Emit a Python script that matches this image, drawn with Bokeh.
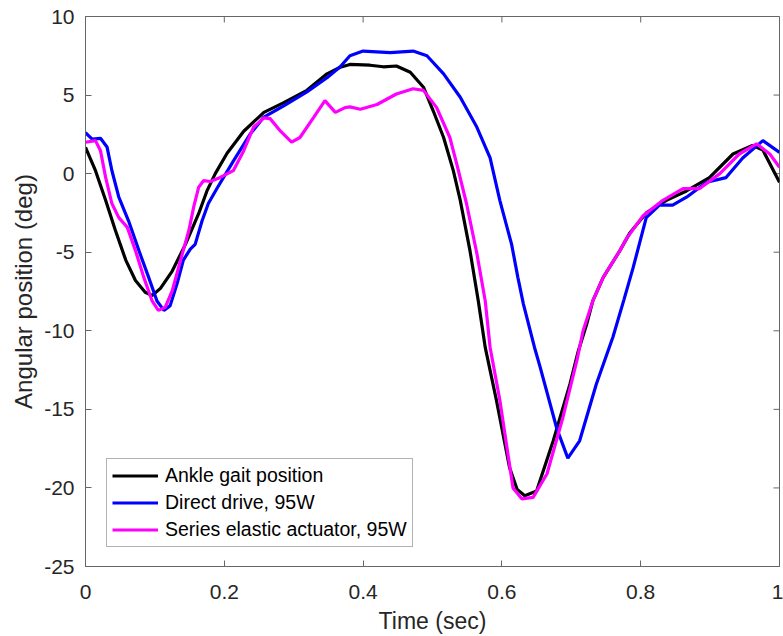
import math
from bokeh.plotting import figure
from bokeh.models import FixedTicker, Legend, LegendItem, Range1d
from bokeh.embed import file_html
from bokeh.resources import INLINE

# Ankle gait position (black)
ankle_t = [0.0, 0.0144, 0.029, 0.043, 0.058, 0.072, 0.086, 0.096, 0.108, 0.125, 0.144,
           0.163, 0.175, 0.187, 0.204, 0.228, 0.257, 0.285, 0.319, 0.348, 0.367, 0.381,
           0.41, 0.429, 0.448, 0.468, 0.487, 0.501, 0.516, 0.53, 0.54, 0.554, 0.566,
           0.576, 0.592, 0.611, 0.622, 0.633, 0.65, 0.674, 0.698, 0.71, 0.722, 0.731,
           0.746, 0.77, 0.784, 0.808, 0.837, 0.866, 0.899, 0.933, 0.961, 0.976, 1.0]
ankle_y = [1.67, 0.19, -1.7, -3.6, -5.5, -6.8, -7.55, -7.75, -7.3, -6.2, -4.5,
           -2.55, -1.1, 0.0, 1.3, 2.7, 3.9, 4.5, 5.3, 6.35, 6.77, 6.95,
           6.9, 6.8, 6.85, 6.45, 5.5, 4.0, 2.3, 0.19, -1.7, -4.9, -8.1,
           -11.06, -14.4, -18.7, -20.1, -20.5, -20.2, -17.0, -13.4, -11.3, -9.6, -8.1,
           -6.6, -4.9, -3.8, -2.5, -1.7, -1.1, -0.25, 1.25, 1.8, 1.5, -0.55]

# Direct drive, 95W (blue)
direct_t = [0.0, 0.0096, 0.0216, 0.031, 0.038, 0.048, 0.062, 0.077, 0.091, 0.103, 0.113,
            0.122, 0.132, 0.141, 0.151, 0.158, 0.168, 0.177, 0.19, 0.213, 0.237, 0.257,
            0.285, 0.319, 0.348, 0.367, 0.381, 0.40, 0.439, 0.472, 0.492, 0.516, 0.54,
            0.564, 0.583, 0.597, 0.614, 0.623, 0.631, 0.647, 0.655, 0.679, 0.695, 0.712,
            0.736, 0.76, 0.776, 0.789, 0.808, 0.827, 0.846, 0.866, 0.895, 0.923, 0.947,
            0.976, 1.0]
direct_y = [2.6, 2.2, 2.25, 1.7, 0.2, -1.5, -3.0, -4.9, -6.6, -8.1, -8.7,
            -8.4, -7.0, -5.5, -4.8, -4.5, -3.0, -1.9, -0.9, 0.8, 2.5, 3.6,
            4.3, 5.2, 6.1, 6.8, 7.5, 7.8, 7.7, 7.8, 7.5, 6.35, 4.86,
            2.95, 1.0, -1.7, -4.5, -6.6, -8.3, -11.06, -12.3, -16.2, -18.1, -17.0,
            -13.4, -10.4, -8.0, -6.0, -2.8, -2.0, -2.0, -1.5, -0.55, -0.25, 1.0,
            2.1, 1.35]

# Series elastic actuator, 95W (magenta)
sea_t = [0.0, 0.0144, 0.0216, 0.029, 0.038, 0.048, 0.06, 0.072, 0.084, 0.096, 0.105,
         0.115, 0.125, 0.137, 0.149, 0.156, 0.163, 0.170, 0.180, 0.194, 0.213, 0.228,
         0.242, 0.257, 0.266, 0.281, 0.297, 0.309, 0.329, 0.345, 0.36, 0.374, 0.381,
         0.396, 0.42, 0.448, 0.472, 0.487, 0.506, 0.525, 0.535, 0.549, 0.564, 0.576,
         0.583, 0.597, 0.616, 0.629, 0.645, 0.665, 0.688, 0.708, 0.717, 0.731, 0.746,
         0.77, 0.78, 0.803, 0.832, 0.861, 0.885, 0.914, 0.942, 0.967, 0.986, 1.0]
sea_y = [2.0, 2.1, 1.46, -0.24, -1.9, -2.8, -3.4, -4.9, -6.6, -8.1, -8.7,
         -8.5, -7.45, -5.5, -3.6, -2.1, -0.87, -0.45, -0.5, -0.24, 0.19, 1.46,
         2.95, 3.55, 3.5, 2.7, 2.0, 2.3, 3.6, 4.65, 3.9, 4.2, 4.25,
         4.1, 4.4, 5.07, 5.4, 5.3, 4.2, 2.3, 0.6, -1.9, -5.1, -8.1,
         -11.06, -14.4, -20.0, -20.7, -20.6, -19.1, -15.5, -11.9, -10.0, -8.1, -6.6,
         -4.9, -4.1, -2.7, -1.7, -0.95, -0.95, 0.0, 1.25, 1.9, 1.25, 0.4]

x_ticks = [0, 0.2, 0.4, 0.6, 0.8, 1]
x_tick_labels = ["0", "0.2", "0.4", "0.6", "0.8", "1"]
y_ticks = [-25, -20, -15, -10, -5, 0, 5, 10]
y_tick_labels = ["-25", "-20", "-15", "-10", "-5", "0", "5", "10"]

FONT = "Liberation Sans"
TXT = "#262626"
AX = "#666666"

x_min, x_max = min(x_ticks), max(x_ticks)
y_min, y_max = min(y_ticks), max(y_ticks)

p = figure(width=783, height=636, output_backend="svg", toolbar_location=None,
           x_range=Range1d(x_min, x_max), y_range=Range1d(y_min, y_max),
           min_border_left=85, min_border_right=4, min_border_top=16, min_border_bottom=70,
           x_axis_label="Time (sec)", y_axis_label="Angular position (deg)")
p.xgrid.visible = False
p.ygrid.visible = False
p.outline_line_color = AX
p.background_fill_color = "white"
p.border_fill_color = "white"

p.xaxis.ticker = FixedTicker(ticks=x_ticks)
p.xaxis.major_label_overrides = {t: l for t, l in zip(x_ticks, x_tick_labels)}
p.yaxis.ticker = FixedTicker(ticks=y_ticks)
p.yaxis.major_label_overrides = {t: l for t, l in zip(y_ticks, y_tick_labels)}

for ax in [p.xaxis[0], p.yaxis[0]]:
    ax.major_tick_in = 6
    ax.major_tick_out = 0
    ax.minor_tick_line_color = None
    ax.axis_line_color = AX
    ax.major_tick_line_color = AX
    ax.major_label_text_font = FONT
    ax.major_label_text_font_size = "21px"
    ax.major_label_text_color = TXT
    ax.axis_label_text_font = FONT
    ax.axis_label_text_font_style = "normal"
    ax.axis_label_text_color = TXT
p.xaxis.axis_label_text_font_size = "23px"
p.yaxis.axis_label_text_font_size = "24px"
p.xaxis.major_label_standoff = 18
p.yaxis.major_label_standoff = 11
p.xaxis.axis_label_standoff = 6
p.yaxis.axis_label_standoff = 4

# inward tick marks on the top and right frame edges (box style)
p.ray(x=x_ticks, y=[y_max] * len(x_ticks), length=6, length_units="screen",
      angle=-math.pi / 2, line_color=AX, line_width=1)
p.ray(x=[x_max] * len(y_ticks), y=y_ticks, length=6, length_units="screen",
      angle=math.pi, line_color=AX, line_width=1)

r1 = p.line(ankle_t, ankle_y, line_color="#000000", line_width=3.2)
r2 = p.line(direct_t, direct_y, line_color="#0000FF", line_width=3.2)
r3 = p.line(sea_t, sea_y, line_color="#FF00FF", line_width=3.2)

legend = Legend(items=[LegendItem(label="Ankle gait position", renderers=[r1]),
                       LegendItem(label="Direct drive, 95W", renderers=[r2]),
                       LegendItem(label="Series elastic actuator, 95W", renderers=[r3])],
                location=(21, 19), glyph_width=46, glyph_height=23,
                label_text_font=FONT, label_text_font_size="19.5px", label_text_color="#000000",
                label_standoff=7, spacing=4, padding=5, margin=0,
                border_line_color=AX, border_line_width=1,
                background_fill_alpha=1.0, label_height=23)
p.add_layout(legend, "center")

open("out.html", "w").write(file_html(p, INLINE))
